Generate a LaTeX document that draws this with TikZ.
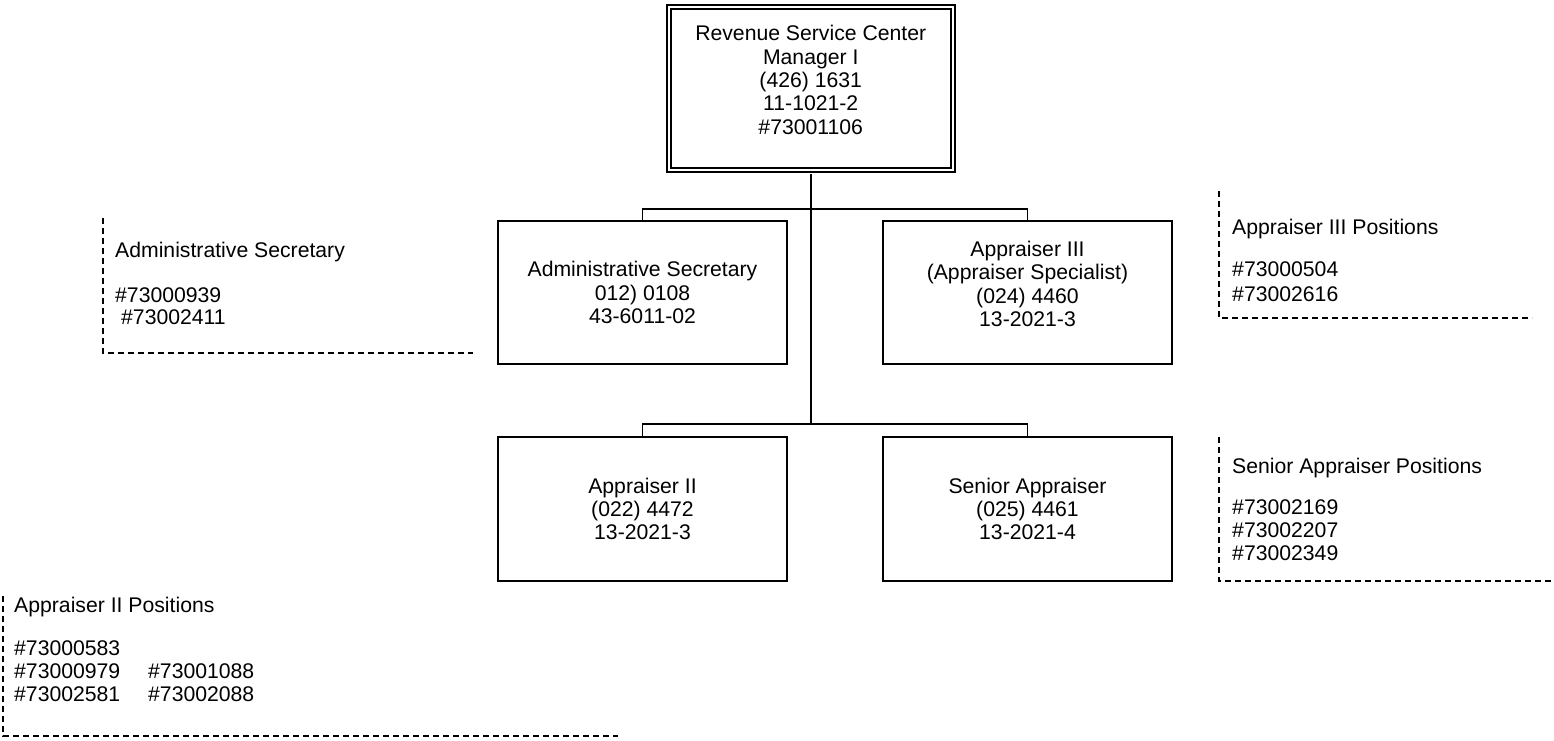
\documentclass[tikz,border=0pt]{standalone}
\usepackage{fontspec}
\setmainfont{Liberation Sans}
\begin{document}
\begin{tikzpicture}[x=1pt,y=-1pt,
  every node/.style={font=\fontsize{21.2}{23.3}\selectfont, inner sep=0pt},
  posbox/.style={draw, line width=1.8pt, minimum width=289pt, minimum height=143.5pt},
  headbox/.style={draw, line width=2pt, double, double distance=2pt,
                  minimum width=283.5pt, minimum height=163pt},
  boxtext/.style={align=center},
  link/.style={line width=1.8pt},
  notefence/.style={line width=1.6pt, dash pattern=on 6pt off 4pt},
  notetext/.style={anchor=base west},
]
\useasboundingbox (0,0) rectangle (1554,740);

% manager (double frame)
\node[headbox] (mgr) at (810.75,88.75) {};
\node[boxtext] (mgrtxt) at (810.75,80) {Revenue Service Center\\Manager I\\(426) 1631\\11-1021-2\\\#73001106};

% first row
\node[posbox] (sec) at (642.5,292.5) {};
\node[boxtext] (sectxt) at (sec.center) {Administrative Secretary\\012) 0108\\43-6011-02};
\node[posbox] (app3) at (1027.5,292.5) {};
\node[boxtext] (app3txt) at (1027.5,284) {Appraiser III\\(Appraiser Specialist)\\(024) 4460\\13-2021-3};

% second row
\node[posbox] (app2) at (642.5,509) {};
\node[boxtext] (app2txt) at (app2.center) {Appraiser II\\(022) 4472\\13-2021-3};
\node[posbox] (sen) at (1027.5,509) {};
\node[boxtext] (sentxt) at (sen.center) {Senior Appraiser\\(025) 4461\\13-2021-4};

% reporting lines
\coordinate (j1) at (810.75,209);
\coordinate (j2) at (810.75,424);
\draw[link] ([yshift=-3pt]mgr.south) -- (j2);
\draw[link] (sec.north) |- (j1) -| (app3.north);
\draw[link] (app2.north) |- (j2) -| (sen.north);

% position lists
\draw[notefence] (103,218) -- (103,353) -- (473,353);
\node[notetext] (secnote) at (115,257) {Administrative Secretary};
\node[notetext] (secn1) at (115,302) {\#73000939};
\node[notetext] (secn2) at (121,324) {\#73002411};

\draw[notefence] (1219,191) -- (1219,318) -- (1532,318);
\node[notetext] (app3note) at (1232,234) {Appraiser III Positions};
\node[notetext] (app3n1) at (1232,276) {\#73000504};
\node[notetext] (app3n2) at (1232,301) {\#73002616};

\draw[notefence] (1219,437) -- (1219,581) -- (1554,581);
\node[notetext] (sennote) at (1232,473) {Senior Appraiser Positions};
\node[notetext] (senn1) at (1232,514) {\#73002169};
\node[notetext] (senn2) at (1232,537) {\#73002207};
\node[notetext] (senn3) at (1232,560) {\#73002349};

\draw[notefence] (3,596) -- (3,736) -- (618,736);
\node[notetext] (app2note) at (14,612) {Appraiser II Positions};
\node[notetext] (app2n1) at (14,655) {\#73000583};
\node[notetext] (app2n2) at (14,678) {\#73000979};
\node[notetext] (app2n3) at (148,678) {\#73001088};
\node[notetext] (app2n4) at (14,701) {\#73002581};
\node[notetext] (app2n5) at (148,701) {\#73002088};
\end{tikzpicture}
\end{document}
